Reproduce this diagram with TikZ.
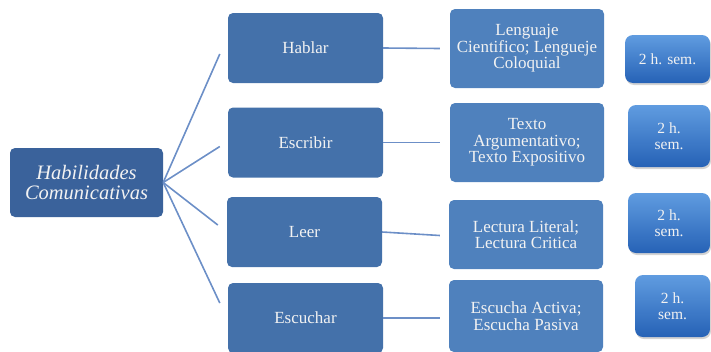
\documentclass[tikz,border=0pt]{standalone}
\usepackage{fontspec}
\setmainfont{Liberation Serif}
\usetikzlibrary{positioning}
\usetikzlibrary{calc}
\usetikzlibrary{shadows}
\definecolor{HCRoot}{RGB}{58,98,155}
\definecolor{HCSkill}{RGB}{68,113,170}
\definecolor{HCTopic}{RGB}{79,129,189}
\definecolor{HCHoursTop}{RGB}{96,156,224}
\definecolor{HCHoursBottom}{RGB}{38,98,182}
\definecolor{HCLine}{RGB}{108,143,199}
\definecolor{HCText}{RGB}{242,242,242}

\begin{document}
\begin{tikzpicture}[x=1pt,y=-1pt,
		root/.style={fill=HCRoot,rounded corners=5pt,text=HCText,align=center,
			minimum width=153pt,minimum height=69pt,inner sep=2pt,
			font=\fontsize{20.5}{20.5}\selectfont\itshape},
		skill/.style={fill=HCSkill,rounded corners=5pt,text=HCText,align=center,
			minimum width=155pt,minimum height=70pt,inner sep=2pt,
			font=\fontsize{17}{16.5}\selectfont},
		topic/.style={fill=HCTopic,rounded corners=5pt,text=HCText,align=center,
			minimum width=154pt,minimum height=79pt,inner sep=1pt,
			font=\fontsize{17}{16.5}\selectfont},
		hours/.style={top color=HCHoursTop,bottom color=HCHoursBottom,rounded corners=8pt,
			text=HCText,align=center,minimum width=82pt,minimum height=60pt,inner sep=2pt,
			drop shadow={shadow xshift=1pt,shadow yshift=-2pt,opacity=0.35},
			font=\fontsize{15.5}{16.5}\selectfont},
		link/.style={draw=HCLine,line width=1.6pt}]
	\useasboundingbox (0,0) rectangle (711,351);

	% tronco
	\node[root] (habilidades) at (86.5,182.5) {Habilidades\\Comunicativas};

	% habilidades
	\node[skill] (hablar) at (305.5,48) {Hablar};
	\node[skill] (escribir) at (305.5,142.5) {Escribir};
	\node[skill] (leer) at (304.5,232) {Leer};
	\node[skill] (escuchar) at (305.5,318) {Escuchar};

	% contenidos
	\node[topic] (lenguaje) at (527,48.5) {Lenguaje\\Cientifico; Lengueje\\Coloquial};
	\node[topic] (texto) at (527,142.5) {Texto\\Argumentativo;\\Texto Expositivo};
	\node[topic,minimum height=69pt] (lectura) at (526,234.5) {Lectura Literal;\\Lectura Critica};
	\node[topic,minimum height=72pt] (escucha) at (526,316) {Escucha Activa;\\Escucha Pasiva};

	% horas
	\node[hours,minimum width=85pt,minimum height=48pt] (horasA) at (667.5,59) {2 h. sem.};
	\node[hours,minimum height=62pt] (horasB) at (669,136) {2 h.\\sem.};
	\node[hours] (horasC) at (669,223) {2 h.\\sem.};
	\node[hours,minimum width=75pt,minimum height=62pt] (horasD) at (672.5,306) {2 h.\\sem.};

	\draw[link] (habilidades.east) -- ([xshift=-8pt,yshift=-6pt]hablar.west);
	\draw[link] (habilidades.east) -- ([xshift=-8pt,yshift=-4pt]escribir.west);
	\draw[link] (habilidades.east) -- ([xshift=-9pt,yshift=7pt]leer.west);
	\draw[link] (habilidades.east) -- ([xshift=-8pt,yshift=15pt]escuchar.west);

	\draw[link] (hablar.east) -- ([xshift=-10pt]lenguaje.west);
	\draw[link] (escribir.east) -- ([xshift=-10pt]texto.west);
	\draw[link] (leer.east) -- ([xshift=-9pt,yshift=-1pt]lectura.west);
	\draw[link] (escuchar.east) -- ([xshift=-9pt,yshift=-2pt]escucha.west);
\end{tikzpicture}
\end{document}
